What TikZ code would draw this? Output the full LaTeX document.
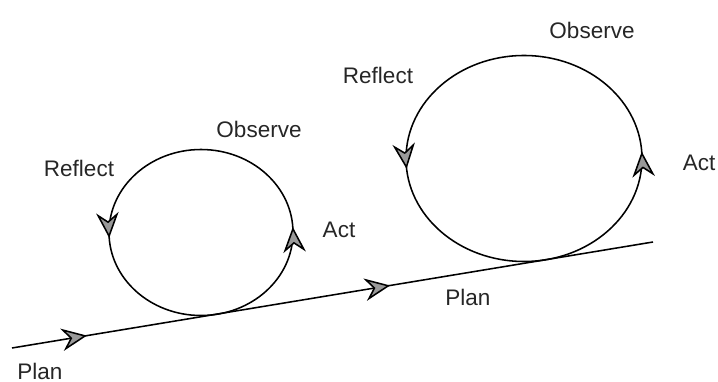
\documentclass[tikz,border=0pt]{standalone}
\usepackage{fontspec}
\setmainfont{Liberation Sans}
\usetikzlibrary{arrows.meta,decorations.markings}

\begin{document}
\begin{tikzpicture}[x=0.025cm, y=0.025cm, line width=1.1pt, >={Stealth[length=18pt, width=16pt, inset=6pt, fill=gray!80]}, lbl/.style={font=\fontsize{16}{19}\selectfont, text=black!85}, cycleflow/.style 2 args={decoration={markings, mark=at position #1 with {\arrow{>}}, mark=at position #2 with {\arrow{>}}}, postaction={decorate}}]

\useasboundingbox (0,0) rectangle (718,382);

\coordinate (planA) at (12,34);
\coordinate (planB) at (653,140);
\coordinate (cycA) at (201,149.5);
\coordinate (cycB) at (524,223.5);

\draw[cycleflow={0.01}{0.51}] (cycA) ellipse [x radius=92, y radius=83];
\draw[cycleflow={0.01}{0.515}] (cycB) ellipse [x radius=118, y radius=103];
\draw[cycleflow={0.117}{0.59}] (planA) -- (planB);

\node[lbl] (obsA) at (259,253) {Observe};
\node[lbl] (refA) at (79,214) {Reflect};
\node[lbl] (actA) at (339,152) {Act};
\node[lbl] (plnA) at (40,11) {Plan};
\node[lbl] (obsB) at (592,352) {Observe};
\node[lbl] (refB) at (378,307) {Reflect};
\node[lbl] (actB) at (699,219) {Act};
\node[lbl] (plnB) at (468,85) {Plan};
\end{tikzpicture}
\end{document}
